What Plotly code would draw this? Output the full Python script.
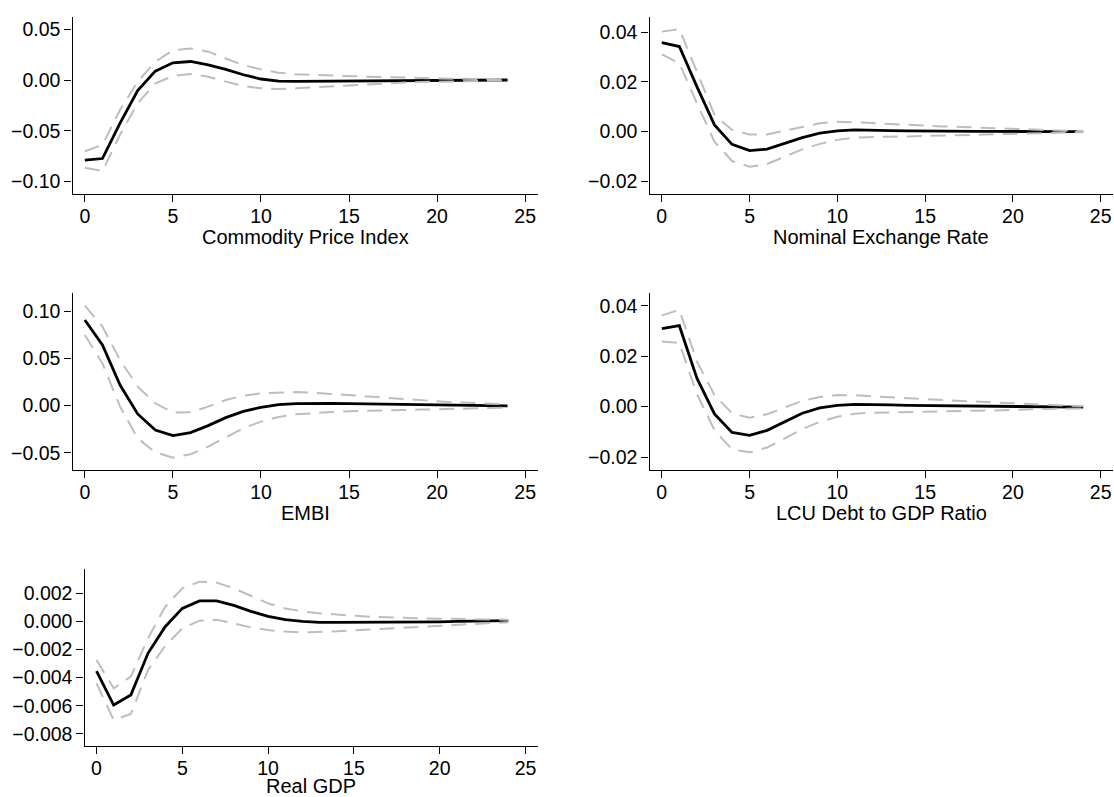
import plotly.graph_objects as go

# Impulse responses over a 24-period horizon, with upper / lower confidence bands
horizon = list(range(25))

cpi_irf = [-0.0791, -0.0775, -0.0425, -0.0105, 0.0088, 0.0170, 0.0183, 0.0150, 0.0105, 0.0052,
           0.0010, -0.0010, -0.0013, -0.0012, -0.0010, -0.0008, -0.0006, -0.0005, -0.0003, -0.0002,
           -0.0001, -0.0001, 0.0000, 0.0000, 0.0000]
cpi_hi = [-0.0703, -0.0640, -0.0294, -0.0016, 0.0180, 0.0294, 0.0310, 0.0280, 0.0212, 0.0147,
          0.0105, 0.0072, 0.0056, 0.0049, 0.0042, 0.0039, 0.0033, 0.0030, 0.0023, 0.0020,
          0.0016, 0.0013, 0.0010, 0.0008, 0.0006]
cpi_lo = [-0.0866, -0.0899, -0.0540, -0.0229, -0.0033, 0.0039, 0.0059, 0.0033, -0.0016, -0.0059,
          -0.0082, -0.0088, -0.0082, -0.0072, -0.0062, -0.0052, -0.0043, -0.0033, -0.0026, -0.0020,
          -0.0016, -0.0013, -0.0010, -0.0007, -0.0003]

ner_irf = [0.0358, 0.0342, 0.0181, 0.0027, -0.0051, -0.0076, -0.0070, -0.0047, -0.0024, -0.0006,
           0.0003, 0.0007, 0.0007, 0.0004, 0.0003, 0.0002, 0.0002, 0.0001, 0.0001, 0.0001,
           0.0000, 0.0000, 0.0000, 0.0000, 0.0000]
ner_hi = [0.0402, 0.0412, 0.0241, 0.0067, 0.0007, -0.0011, -0.0011, 0.0003, 0.0020, 0.0034,
          0.0040, 0.0039, 0.0035, 0.0031, 0.0027, 0.0024, 0.0021, 0.0019, 0.0016, 0.0013,
          0.0011, 0.0008, 0.0005, 0.0004, 0.0003]
ner_lo = [0.0311, 0.0275, 0.0114, -0.0040, -0.0118, -0.0141, -0.0130, -0.0100, -0.0071, -0.0049,
          -0.0033, -0.0024, -0.0021, -0.0020, -0.0019, -0.0017, -0.0016, -0.0013, -0.0011, -0.0009,
          -0.0007, -0.0005, -0.0004, -0.0003, -0.0002]

embi_irf = [0.0905, 0.0641, 0.0218, -0.0088, -0.0257, -0.0317, -0.0285, -0.0211, -0.0127, -0.0060,
            -0.0018, 0.0011, 0.0021, 0.0025, 0.0025, 0.0021, 0.0018, 0.0014, 0.0011, 0.0007,
            0.0004, 0.0003, 0.0001, 0.0000, -0.0003]
embi_hi = [0.1056, 0.0835, 0.0482, 0.0201, 0.0025, -0.0074, -0.0070, -0.0011, 0.0060, 0.0106,
           0.0130, 0.0141, 0.0144, 0.0137, 0.0123, 0.0109, 0.0095, 0.0081, 0.0067, 0.0056,
           0.0046, 0.0035, 0.0028, 0.0021, 0.0014]
embi_lo = [0.0746, 0.0447, -0.0011, -0.0345, -0.0493, -0.0549, -0.0514, -0.0433, -0.0335, -0.0239,
           -0.0169, -0.0120, -0.0092, -0.0077, -0.0067, -0.0060, -0.0053, -0.0049, -0.0046, -0.0042,
           -0.0039, -0.0035, -0.0032, -0.0028, -0.0021]

lcu_irf = [0.0309, 0.0321, 0.0113, -0.0029, -0.0102, -0.0114, -0.0094, -0.0060, -0.0026, -0.0005,
           0.0005, 0.0009, 0.0009, 0.0007, 0.0005, 0.0004, 0.0004, 0.0003, 0.0003, 0.0002,
           0.0002, 0.0001, 0.0000, -0.0001, -0.0002]
lcu_hi = [0.0362, 0.0384, 0.0179, 0.0046, -0.0026, -0.0044, -0.0030, -0.0003, 0.0023, 0.0038,
          0.0046, 0.0045, 0.0042, 0.0038, 0.0034, 0.0030, 0.0026, 0.0023, 0.0019, 0.0016,
          0.0013, 0.0009, 0.0007, 0.0004, 0.0003]
lcu_lo = [0.0258, 0.0252, 0.0050, -0.0093, -0.0170, -0.0181, -0.0162, -0.0126, -0.0089, -0.0060,
          -0.0040, -0.0028, -0.0024, -0.0023, -0.0021, -0.0020, -0.0019, -0.0017, -0.0016, -0.0015,
          -0.0012, -0.0011, -0.0009, -0.0008, -0.0007]

gdp_irf = [-0.00353, -0.00595, -0.00524, -0.00227, -0.00038, 0.00092, 0.00145, 0.00145, 0.00114, 0.00071,
           0.00036, 0.00012, 0.00000, -0.00007, -0.00007, -0.00007, -0.00007, -0.00005, -0.00005, -0.00003,
           -0.00003, 0.00000, 0.00000, 0.00002, 0.00005]
gdp_hi = [-0.00275, -0.00476, -0.00393, -0.00121, 0.00104, 0.00235, 0.00282, 0.00275, 0.00235, 0.00180,
          0.00128, 0.00092, 0.00071, 0.00057, 0.00047, 0.00040, 0.00033, 0.00028, 0.00024, 0.00021,
          0.00019, 0.00017, 0.00014, 0.00012, 0.00012]
gdp_lo = [-0.00441, -0.00701, -0.00659, -0.00346, -0.00175, -0.00050, 0.00005, 0.00012, -0.00014, -0.00043,
          -0.00062, -0.00073, -0.00078, -0.00076, -0.00071, -0.00064, -0.00057, -0.00050, -0.00043, -0.00036,
          -0.00028, -0.00021, -0.00017, -0.00012, -0.00007]

titles = ["Commodity Price Index", "Nominal Exchange Rate", "EMBI",
          "LCU Debt to GDP Ratio", "Real GDP"]
x_ticks = [0, 5, 10, 15, 20, 25]
y_ticks = [
    [-0.10, -0.05, 0.00, 0.05],
    [-0.02, 0.00, 0.02, 0.04],
    [-0.05, 0.00, 0.05, 0.10],
    [-0.02, 0.00, 0.02, 0.04],
    [-0.008, -0.006, -0.004, -0.002, 0.000, 0.002],
]
y_formats = [".2f", ".2f", ".2f", ".2f", ".3f"]
y_ranges = [
    [-0.1125, 0.0625],
    [-0.02505, 0.0462],
    [-0.0680, 0.1187],
    [-0.02511, 0.04494],
    [-0.00886, 0.0037],
]
series = [
    (cpi_irf, cpi_hi, cpi_lo),
    (ner_irf, ner_hi, ner_lo),
    (embi_irf, embi_hi, embi_lo),
    (lcu_irf, lcu_hi, lcu_lo),
    (gdp_irf, gdp_hi, gdp_lo),
]

W, H = 1114, 797
# pixel boxes of each panel's plotting area: (left, right, top, bottom)
boxes = [
    (72.5, 537.5, 16.7, 194.0),
    (649.5, 1113.0, 16.7, 194.0),
    (72.5, 537.5, 293.3, 470.0),
    (649.5, 1113.0, 293.3, 470.0),
    (84.5, 537.5, 569.3, 746.0),
]
# distance in px from each panel's x axis down to the middle of its caption
title_offsets = [42.5, 42.5, 42.5, 42.5, 40.0]

FONT = "Liberation Sans, Arial, Helvetica, sans-serif"
BAND = "#bdbdbd"

fig = go.Figure()
layout = {}
annotations = []
for i, ((irf, hi, lo), (l, r, t, b)) in enumerate(zip(series, boxes)):
    n = i + 1
    xa = "x" if n == 1 else f"x{n}"
    ya = "y" if n == 1 else f"y{n}"
    fig.add_trace(go.Scatter(x=horizon, y=irf, xaxis=xa, yaxis=ya, mode="lines",
                             line=dict(color="black", width=2.8), showlegend=False))
    for band in (hi, lo):
        fig.add_trace(go.Scatter(x=horizon, y=band, xaxis=xa, yaxis=ya, mode="lines",
                                 line=dict(color=BAND, width=2, dash="15px,9px"),
                                 showlegend=False))
    common = dict(showgrid=False, zeroline=False, showline=True, linecolor="black",
                  linewidth=1.3, ticks="outside", ticklen=7, tickwidth=1.3,
                  tickcolor="black", tickfont=dict(family=FONT, size=19.5, color="black"))
    layout["xaxis" if n == 1 else f"xaxis{n}"] = dict(
        domain=[l / W, r / W], anchor=ya, range=[-0.7, 25.7],
        tickvals=x_ticks, ticklabelstandoff=-3, **common)
    layout["yaxis" if n == 1 else f"yaxis{n}"] = dict(
        domain=[1 - b / H, 1 - t / H], anchor=xa, range=y_ranges[i],
        tickvals=y_ticks[i], tickformat=y_formats[i], **common)
    annotations.append(dict(text=titles[i], xref="paper", yref="paper",
                            x=(l + r) / 2 / W, y=1 - (b + title_offsets[i]) / H,
                            xanchor="center", yanchor="middle", showarrow=False,
                            font=dict(family=FONT, size=20, color="black")))

fig.update_layout(
    width=W, height=H, margin=dict(l=0, r=0, t=0, b=0),
    paper_bgcolor="white", plot_bgcolor="white",
    annotations=annotations, **layout)

fig.write_html("out.html")
